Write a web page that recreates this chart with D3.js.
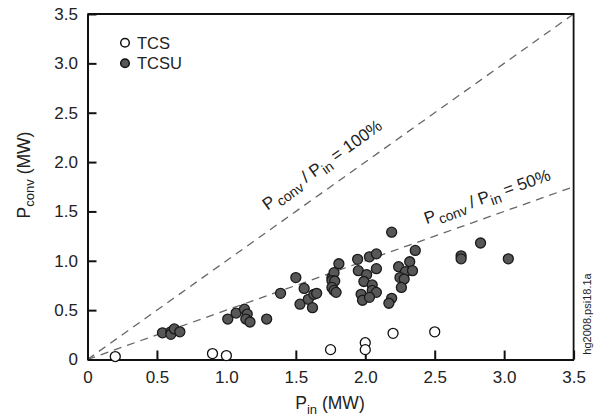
<!DOCTYPE html>
<html>
<head>
<meta charset="utf-8">
<script src="https://cdn.jsdelivr.net/npm/d3@7"></script>
<style>
  html, body { margin: 0; padding: 0; background: #fff; }
  svg { display: block; font-family: "Liberation Sans", Arial, sans-serif; }
</style>
</head>
<body>
<svg id="chart" width="597" height="417"></svg>
<script>
// ---- data ----
const xTicks = [0, 0.5, 1.0, 1.5, 2.0, 2.5, 3.0, 3.5];
const xTickLabels = ["0", "0.5", "1.0", "1.5", "2.0", "2.5", "3.0", "3.5"];
const yTicks = [0, 0.5, 1.0, 1.5, 2.0, 2.5, 3.0, 3.5];
const yTickLabels = ["0", "0.5", "1.0", "1.5", "2.0", "2.5", "3.0", "3.5"];

const tcsX = [0.2, 0.9, 1.0, 1.75, 2.0, 2.0, 2.2, 2.5];
const tcsY = [0.03, 0.06, 0.04, 0.10, 0.17, 0.10, 0.265, 0.28];

const tcsuX = [0.54, 0.60, 0.60, 0.625, 0.665,
  1.01, 1.07, 1.13, 1.15, 1.14, 1.17, 1.29,
  1.39, 1.50, 1.53, 1.56, 1.59, 1.62, 1.63, 1.65,
  1.76, 1.775, 1.76, 1.78, 1.76, 1.775, 1.79, 1.81,
  1.945, 2.03, 2.08, 2.19, 1.95, 2.01, 2.08, 1.99, 2.05, 2.05, 2.08, 1.97, 1.98, 2.03, 2.19, 2.17,
  2.36, 2.24, 2.32, 2.29, 2.34, 2.25, 2.28, 2.26,
  2.69, 2.69, 2.83, 3.03];
const tcsuY = [0.27, 0.28, 0.255, 0.31, 0.28,
  0.41, 0.47, 0.51, 0.46, 0.41, 0.38, 0.41,
  0.67, 0.83, 0.56, 0.72, 0.61, 0.525, 0.66, 0.67,
  0.83, 0.88, 0.80, 0.795, 0.73, 0.70, 0.68, 0.97,
  1.015, 1.04, 1.07, 1.29, 0.90, 0.86, 0.92, 0.79, 0.755, 0.70, 0.68, 0.66, 0.60, 0.63, 0.62, 0.57,
  1.105, 0.94, 0.99, 0.89, 0.90, 0.83, 0.815, 0.73,
  1.05, 1.02, 1.18, 1.02];

const ratioLines = [1.0, 0.5];
const ratioLabelPct = ["100%", "50%"];
const ratioLabelAt = [1.367, 2.475];
const legendNames = ["TCS", "TCSU"];
const xDomain = [0, 3.5];
const yDomain = [0, 3.5];

// ---- layout ----
const svg = d3.select("#chart");
const L = 87.5, T = 14, R = 573.6, B = 359.5;
const x = d3.scaleLinear().domain(xDomain).range([L, R]);
const y = d3.scaleLinear().domain(yDomain).range([B, T]);

// ratio lines
const line = d3.line().x(d => x(d[0])).y(d => y(d[1]));
ratioLines.forEach((r, i) => {
  svg.append("path")
    .attr("d", line([[0, 0], [xDomain[1], xDomain[1] * r]]))
    .attr("fill", "none").attr("stroke", "#666")
    .attr("stroke-width", 1.3).attr("stroke-dasharray", "8,6");
  const xa = ratioLabelAt[i];
  const ang = Math.atan2(y(r) - y(0), x(1) - x(0)) * 180 / Math.PI;
  const off = i === 0 ? -17 : -14;
  const t = svg.append("text")
    .attr("transform", `translate(${x(xa)},${y(xa * r)}) rotate(${ang})`)
    .attr("y", off)
    .attr("font-size", 17).attr("fill", "#222");
  t.append("tspan").text("P");
  t.append("tspan").attr("dx", 2).attr("dy", 4.5).attr("font-size", 14).text("conv");
  t.append("tspan").attr("dy", -4.5).text(" / P");
  t.append("tspan").attr("dy", 4.5).attr("font-size", 14).text("in");
  t.append("tspan").attr("dy", -4.5).text(" = " + ratioLabelPct[i]);
});

// axes
const xAxis = d3.axisBottom(x).tickValues(xTicks)
  .tickFormat((d, i) => xTickLabels[i]).tickSizeInner(-9).tickSizeOuter(0).tickPadding(11);
const yAxis = d3.axisLeft(y).tickValues(yTicks)
  .tickFormat((d, i) => yTickLabels[i]).tickSizeInner(-9).tickSizeOuter(0).tickPadding(9.5);

const gx = svg.append("g").attr("transform", `translate(0,${B})`).call(xAxis);
const gy = svg.append("g").attr("transform", `translate(${L},0)`).call(yAxis);
[gx, gy].forEach(g => {
  g.selectAll("text").attr("font-size", 17).attr("fill", "#222")
    .attr("font-family", "'Liberation Sans', Arial, sans-serif");
  g.select(".domain").attr("stroke", "#111").attr("stroke-width", 2);
  g.selectAll(".tick line").attr("stroke", "#111").attr("stroke-width", 2);
});

// frame top/right
svg.append("path")
  .attr("d", `M${L},${T}H${R}V${B}`)
  .attr("fill", "none").attr("stroke", "#111").attr("stroke-width", 1.8);

// points
svg.append("g").selectAll("circle").data(tcsX).join("circle")
  .attr("cx", (d, i) => x(tcsX[i])).attr("cy", (d, i) => y(tcsY[i])).attr("r", 5)
  .attr("fill", "#fff").attr("stroke", "#111").attr("stroke-width", 1.3);
svg.append("g").selectAll("circle").data(tcsuX).join("circle")
  .attr("cx", (d, i) => x(tcsuX[i])).attr("cy", (d, i) => y(tcsuY[i])).attr("r", 5)
  .attr("fill", "#575757").attr("stroke", "#1a1a1a").attr("stroke-width", 1.3);

// legend
const lg = svg.append("g");
[0, 1].forEach(i => {
  const cy = 42.7 + i * 20.6;
  lg.append("circle").attr("cx", 125).attr("cy", cy).attr("r", 4.3)
    .attr("fill", i === 0 ? "#fff" : "#575757").attr("stroke", "#111").attr("stroke-width", 1.5);
  lg.append("text").attr("x", 137).attr("y", cy + 6).attr("font-size", 16.5).attr("fill", "#222")
    .text(legendNames[i]);
});

// axis titles
const xt = svg.append("text").attr("x", 330).attr("y", 409).attr("text-anchor", "middle")
  .attr("font-size", 17.5).attr("fill", "#222");
xt.append("tspan").text("P");
xt.append("tspan").attr("dy", 4.5).attr("font-size", 13).text("in");
xt.append("tspan").attr("dy", -4.5).text(" (MW)");

const yt = svg.append("text")
  .attr("transform", "translate(29.5,175) rotate(-90)")
  .attr("text-anchor", "middle").attr("font-size", 17.5).attr("fill", "#222");
yt.append("tspan").text("P");
yt.append("tspan").attr("dy", 4.5).attr("font-size", 13).text("conv");
yt.append("tspan").attr("dy", -4.5).text(" (MW)");

// file tag
svg.append("text").attr("transform", "translate(591,314) rotate(-90)")
  .attr("text-anchor", "middle").attr("font-size", 11).attr("fill", "#222")
  .text("hg2008.psi18.1a");
</script>
</body>
</html>
